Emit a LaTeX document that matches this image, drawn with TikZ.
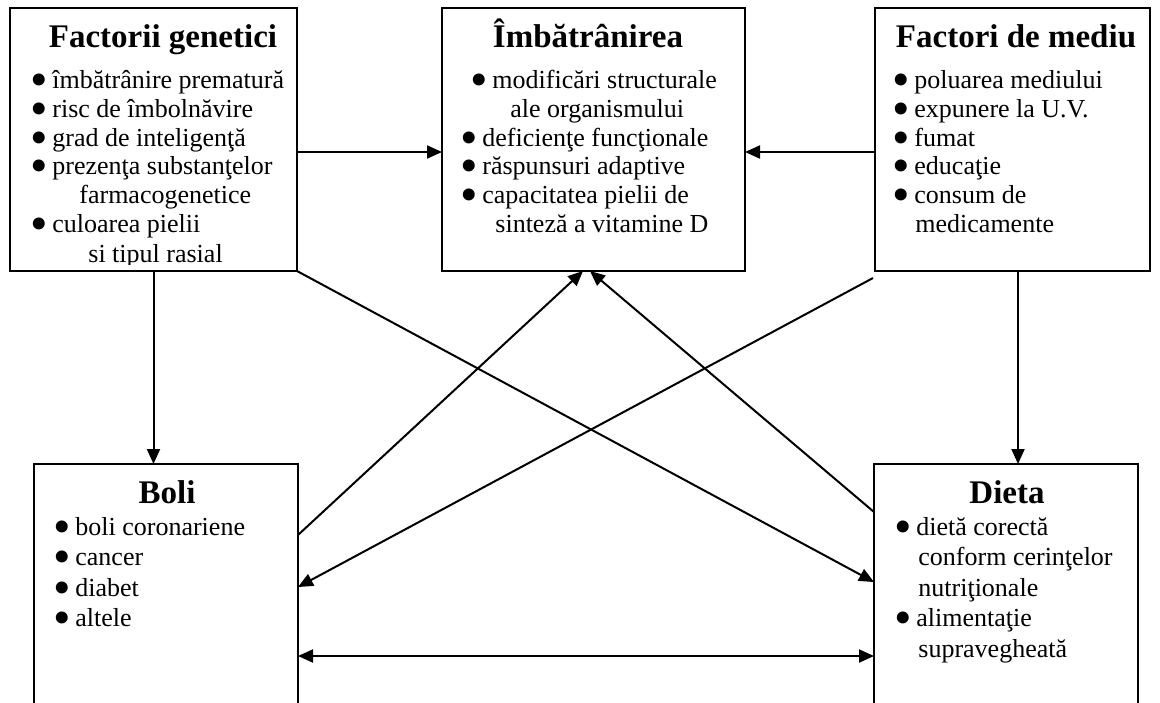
\documentclass[tikz,border=0pt]{standalone}
\usepackage{fontspec}
\setmainfont{Liberation Serif}
\usetikzlibrary{arrows.meta,calc}
\newcommand\bul{\makebox[9.5pt][l]{\hspace{-1.3pt}\raisebox{-4.4pt}[0pt][0pt]{\fontsize{25}{25}\selectfont •}}}
\begin{document}
\begin{tikzpicture}[x=0.5pt,y=-0.5pt,
  >={Triangle[length=7.5pt,width=6.5pt]},
  box/.style={draw,line width=1pt,inner sep=0pt,outer sep=0pt,anchor=north west},
  txt/.style={anchor=base west,inner sep=0pt,font=\fontsize{13}{15}\selectfont},
  ttl/.style={anchor=base,inner sep=0pt,font=\fontsize{16.5}{18}\selectfont\bfseries},
  arr/.style={line width=1pt,->},
  darr/.style={line width=1pt,<->}]
\useasboundingbox (0,0) rectangle (1160,702);
\clip (0,0) rectangle (1160,702);
% boxes
\node[box,minimum width=143.5pt,minimum height=131.5pt] (gen) at (10,8) {};
\node[box,minimum width=151.5pt,minimum height=131.5pt] (imb) at (442,8) {};
\node[box,minimum width=137.5pt,minimum height=131.5pt] (med) at (875,8) {};
\node[box,minimum width=132pt,minimum height=133pt] (boli) at (34,464) {};
\node[box,minimum width=132pt,minimum height=133pt] (dieta) at (874,464) {};
% box 1 text
\begin{scope}
\clip (gen.north west) rectangle ([yshift=3.5pt]gen.south east);
\node[ttl] (g0) at (163,47) {Factorii genetici};
\node[txt] (g1) at (33,88) {\bul îmbătrânire prematură};
\node[txt] (g2) at (33,117) {\bul risc de îmbolnăvire};
\node[txt] (g3) at (33,146) {\bul grad de inteligenţă};
\node[txt] (g4) at (33,174) {\bul prezenţa substanţelor};
\node[txt] (g5) at (79,203) {farmacogenetice};
\node[txt] (g6) at (33,232) {\bul culoarea pielii};
\node[txt] (g7) at (88,262) {si tipul rasial};
\end{scope}
% box 2 text
\node[ttl] (i0) at (588,47) {Îmbătrânirea};
\node[txt] (i1) at (473,88) {\bul modificări structurale};
\node[txt] (i2) at (510,117) {ale organismului};
\node[txt] (i3) at (463,146) {\bul deficienţe funcţionale};
\node[txt] (i4) at (463,174) {\bul răspunsuri adaptive};
\node[txt] (i5) at (463,203) {\bul capacitatea pielii de};
\node[txt] (i6) at (495,232) {sinteză a vitamine D};
% box 3 text
\node[ttl] (m0) at (1016,47) {Factori de mediu};
\node[txt] (m1t) at (895,88) {\bul poluarea mediului};
\node[txt] (m2t) at (895,117) {\bul expunere la U.V.};
\node[txt] (m3t) at (895,146) {\bul fumat};
\node[txt] (m4t) at (895,174) {\bul educaţie};
\node[txt] (m5t) at (895,203) {\bul consum de};
\node[txt] (m6t) at (915,232) {medicamente};
% box 4 text
\node[ttl] (b0) at (167,503) {Boli};
\node[txt] (b1) at (56,535) {\bul boli coronariene};
\node[txt] (b2) at (56,565) {\bul cancer};
\node[txt] (b3) at (56,596) {\bul diabet};
\node[txt] (b4) at (56,626) {\bul altele};
% box 5 text
\node[ttl] (d0) at (1007,503) {Dieta};
\node[txt] (d1) at (897,535) {\bul dietă corectă};
\node[txt] (d2) at (918,565) {conform cerinţelor};
\node[txt] (d3) at (918,596) {nutriţionale};
\node[txt] (d4) at (897,626) {\bul alimentaţie};
\node[txt] (d5) at (918,657) {supravegheată};
% connectors
\draw[arr] ([yshift=-6.25pt]gen.east) -- ([yshift=-6.25pt]imb.west);
\draw[arr] ([yshift=-6.25pt]med.west) -- ([yshift=-6.25pt]imb.east);
\draw[arr] (gen.south) -- (gen.south |- boli.north);
\coordinate (ms) at ([xshift=2.75pt]med.south);
\draw[arr] (ms) -- (ms |- dieta.north);
\draw[arr] (gen.south east) -- ([yshift=7.5pt]dieta.west);
\draw[arr] ([shift={(-1pt,-3.5pt)}]med.south west) -- ([yshift=5pt]boli.east);
\draw[arr] ([yshift=31pt]boli.east) -- ([xshift=-5.25pt]imb.south);
\draw[arr] ([yshift=42.5pt]dieta.west) -- ([xshift=-1.75pt]imb.south);
\draw[darr] ([yshift=-29.5pt]boli.east) -- ([yshift=-29.5pt]dieta.west);
\end{tikzpicture}
\end{document}
